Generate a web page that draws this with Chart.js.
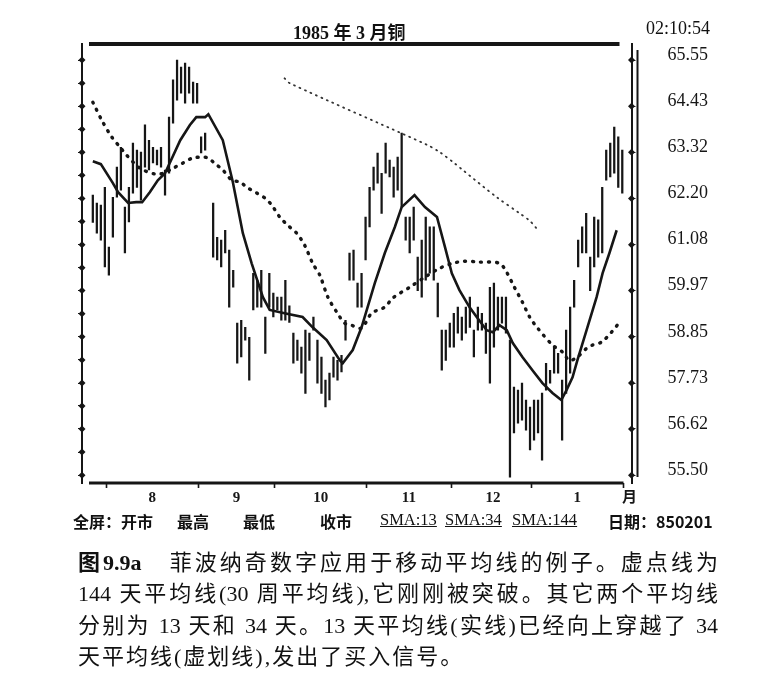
<!DOCTYPE html>
<html>
<head>
<meta charset="utf-8">
<script src="https://cdn.jsdelivr.net/npm/chart.js@4.4.1/dist/chart.umd.min.js"></script>
<style>
html, body { margin: 0; padding: 0; background: #fff; }
body { width: 771px; height: 683px; position: relative; overflow: hidden;
       font-family: "Liberation Serif", "Noto Sans CJK SC", serif; color: #111; }
#wrap { position: absolute; left: 0; top: 0; width: 771px; height: 540px; }
.t { position: absolute; white-space: nowrap; line-height: 1; }
#title { left: 293px; top: 24px; font-size: 18px; font-weight: bold; }
#clock { left: 646px; top: 19px; font-size: 18px; }
.leg { top: 513px; font-size: 16px; font-weight: bold; font-family: "Noto Sans CJK SC", sans-serif; }
.sma { top: 512px; font-size: 16.5px; text-decoration: underline; font-family: "Liberation Serif", serif; }
.cap { position: absolute; left: 78px; width: 640px; font-size: 22px; line-height: 31px;
       white-space: nowrap; }
.just { text-align: justify; text-align-last: justify; text-justify: inter-character; }
</style>
</head>
<body>
<div id="wrap"><canvas id="c" width="771" height="540"></canvas></div>

<div class="t" id="title">1985 年 3 月铜</div>
<div class="t" id="clock">02:10:54</div>

<div class="t leg" style="left:73px">全屏：开市</div>
<div class="t leg" style="left:177px">最高</div>
<div class="t leg" style="left:243px">最低</div>
<div class="t leg" style="left:320px">收市</div>
<div class="t sma" style="left:380px">SMA:13</div>
<div class="t sma" style="left:445px">SMA:34</div>
<div class="t sma" style="left:512px">SMA:144</div>
<div class="t leg" style="left:608px">日期：850201</div>

<div class="cap just" style="top:547px"><b>图9.9a</b>　菲波纳奇数字应用于移动平均线的例子。虚点线为</div>
<div class="cap just" style="top:578px">144 天平均线(30 周平均线),它刚刚被突破。其它两个平均线</div>
<div class="cap just" style="top:610px">分别为 13 天和 34 天。13 天平均线(实线)已经向上穿越了 34</div>
<div class="cap" style="top:641px; letter-spacing:2px">天平均线(虚划线),发出了买入信号。</div>

<script>
// trading days per month on the chart (Jul 84 .. Jan 85, last one incl. 850201)
const months = ['1984-07', '1984-08', '1984-09', '1984-10', '1984-11', '1984-12', '1985-01'];
const monthDays = [6, 23, 19, 23, 21, 20, 23];
const monthTicks = ['', '8', '9', '10', '11', '12', '1'];
const unitTick = '月';
const spareSlots = 2;

// daily low / high
const lows = [null, null,
  61.62, 61.36, 61.19, 60.54, 60.34, 61.26, 62.23, 62.40, 60.88, 61.63,
  62.33, 62.47, 62.16, 62.96, 62.89, 63.06, 63.01, 62.96, 62.28, 62.81,
  64.02, 64.58, 64.75, 64.51, 64.75, 64.51, 64.51, 63.30, 63.37, null,
  60.78, 60.71, 60.54, 60.88, 59.57, 60.05, 58.21, 58.36, 58.77, 57.80,
  59.50, 59.57, 59.57, 58.45, 59.57, 59.33, 59.50, 59.25, 59.25, 59.20,
  58.21, 58.28, 57.97, 57.48, 58.28, 59.01, 57.73, 57.48, 57.15, 57.32,
  57.87, 57.80, 58.00, 58.77, 60.22, 60.22, 59.57, 59.57, 60.71, 61.51,
  62.40, 62.57, 61.84, 62.81, 62.72, 62.23, 62.40, 61.99, 61.19, 60.88,
  61.19, 59.97, 59.81, 60.22, 60.39, 60.22, 59.33, 58.04, 58.28, 58.60,
  58.60, 58.94, 58.77, 58.94, 59.08, 58.36, 59.01, 59.01, 58.45, 57.73,
  58.60, 59.01, 59.18, 58.94, 55.45, 56.52, 56.76, 56.83, 56.59, 56.11,
  56.35, 56.52, 55.86, 57.56, 57.73, 57.97, 57.97, 56.35, 57.48, 57.97,
  59.57, 60.54, 60.88, 60.88, 59.97, 60.54, 60.78, 60.88, 62.64, 62.72,
  62.81, 62.47, 62.33, null, null];
const highs = [null, null,
  62.28, 62.09, 62.04, 62.47, 61.02, 62.23, 62.96, 63.44, 61.99, 62.47,
  63.54, 63.37, 63.32, 63.98, 63.61, 63.44, 63.37, 63.44, 62.89, 64.17,
  65.07, 65.55, 65.38, 65.48, 65.38, 65.02, 64.99, 63.69, 63.78, null,
  62.09, 61.26, 61.19, 61.43, 60.95, 60.46, 59.18, 59.25, 59.08, 58.84,
  60.39, 60.22, 60.46, 59.33, 60.39, 59.91, 59.81, 59.81, 60.22, 59.60,
  58.94, 58.77, 58.60, 59.01, 58.94, 59.33, 58.77, 58.36, 57.80, 57.97,
  58.36, 58.28, 58.40, 59.25, 60.88, 60.95, 60.15, 60.39, 61.75, 62.47,
  62.96, 63.30, 62.81, 63.54, 63.13, 62.96, 63.20, 63.78, 61.75, 61.75,
  61.99, 60.78, 61.19, 61.75, 61.51, 61.51, 60.15, 59.01, 59.01, 59.18,
  59.42, 59.57, 59.33, 59.57, 59.81, 59.01, 59.57, 59.42, 59.18, 60.05,
  60.15, 59.81, 59.81, 59.81, 58.77, 57.63, 57.56, 57.73, 57.32, 57.15,
  57.32, 57.32, 57.49, 58.21, 58.04, 58.60, 58.45, 57.80, 59.01, 59.57,
  60.22, 61.19, 61.51, 61.84, 60.78, 61.75, 61.68, 62.47, 63.37, 63.54,
  63.93, 63.69, 63.37, null, null];

// moving averages, read at the day positions where the curves are visible
const sma13Day = [2.2, 4.2, 7.2, 8.5, 11, 13, 14.5, 16.4, 18.4, 20.2, 24, 26.4, 28, 30.2, 31,
  34.6, 37.1, 39.6, 41.8, 44.6, 46.3, 50, 54.5, 57, 60.5, 63.8, 64.5, 67, 69.2, 72.5, 75,
  77.5, 79.2, 82.4, 85, 88, 90, 91.7, 93.6, 96.1, 97.9, 100.4, 101.9, 103.6, 105.4, 106.9,
  109.3, 111.8, 114.3, 116.8, 119, 120.3, 121.8, 123, 125.3, 127.8, 129.3, 131, 132.8];
const sma13Val = [63.10, 63.03, 62.57, 62.35, 62.09, 62.11, 62.11, 62.35, 62.64, 62.81, 63.61,
  63.98, 64.17, 64.17, 64.24, 63.61, 62.60, 61.36, 60.63, 59.81, 59.50, 59.42, 59.33, 59.08,
  58.77, 58.28, 58.21, 58.53, 59.08, 60.15, 60.88, 61.51, 61.99, 62.28, 61.99, 61.75, 61.02,
  60.39, 59.98, 59.57, 59.33, 59.01, 58.96, 59.13, 59.01, 58.70, 58.36, 58.04, 57.73, 57.49,
  57.32, 57.56, 57.87, 58.28, 59.01, 59.81, 60.39, 60.88, 61.43];

const sma34Day = [2.2, 4.4, 6.9, 9, 10.6, 14, 17.7, 19.7, 22.2, 24.7, 27.1, 29.6, 30.9, 33.1,
  34.6, 36.9, 38.9, 40.6, 43.1, 45.1, 46.8, 48.8, 50.8, 53, 55, 57, 58.8, 60.8, 63, 65, 66.7,
  69.2, 71.7, 75, 77, 81.2, 84.9, 88.7, 91.9, 94.9, 98.6, 103.6, 105.4, 107.3, 109.3, 111.1,
  113.1, 116.8, 119.3, 121, 123, 125.3, 126.8, 129, 131.5, 133.5];
const sma34Val = [64.53, 64.10, 63.69, 63.44, 63.25, 62.93, 62.79, 62.81, 62.93, 63.06, 63.18,
  63.20, 63.18, 63.01, 62.89, 62.64, 62.60, 62.47, 62.33, 62.21, 62.04, 61.75, 61.55, 61.36,
  61.07, 60.63, 60.34, 59.81, 59.45, 59.18, 59.13, 59.06, 59.42, 59.57, 59.79, 60.05, 60.29,
  60.51, 60.63, 60.68, 60.66, 60.63, 60.41, 60.05, 59.69, 59.33, 59.06, 58.65, 58.48, 58.28,
  58.36, 58.57, 58.65, 58.72, 58.96, 59.20];

const sma144Day = [50, 51.3, 85.7, 88.7, 92.4, 94.4, 102.9, 108.6, 111, 112.8];
const sma144Val = [65.11, 64.99, 63.49, 63.32, 63.05, 62.89, 62.23, 61.84, 61.67, 61.48];

// price scale labels on the right
const yTickLabels = ['55.50', '56.62', '57.73', '58.85', '59.97', '61.08', '62.20', '63.32', '64.43', '65.55'];

// day slots, month start indexes and tick texts
const dayLabels = [];
const monthStarts = [];
const xTickText = {};
months.forEach((m, k) => {
  monthStarts.push(dayLabels.length);
  xTickText[dayLabels.length + Math.floor(monthDays[k] / 2)] = monthTicks[k];
  for (let d = 1; d <= monthDays[k]; d++) dayLabels.push(m + ' #' + d);
});
const dataEnd = dayLabels.length;
for (let d = 1; d <= spareSlots; d++) dayLabels.push('1985-02 #' + d);
xTickText[dayLabels.length - 1] = unitTick;
const boundaries = monthStarts.slice(1).concat([dataEnd]);

const yTickValues = yTickLabels.map(Number);
const yHalfTicks = [];
yTickValues.forEach((v, k) => {
  yHalfTicks.push(v);
  if (k < yTickValues.length - 1) yHalfTicks.push((v + yTickValues[k + 1]) / 2);
});

const serif = '"Liberation Serif", "Noto Sans CJK SC", serif';
const ink = '#161616';

const framePlugin = {
  id: 'frame',
  afterDraw(chart) {
    const { ctx, chartArea: a, scales } = chart;
    ctx.save();
    ctx.strokeStyle = ink;
    ctx.fillStyle = ink;
    // thick rule under the title
    ctx.lineWidth = 4;
    ctx.beginPath();
    ctx.moveTo(a.left + 7, a.top);
    ctx.lineTo(a.right - 12, a.top);
    ctx.stroke();
    // time axis rule, up to the end of the last month
    const x = scales.x;
    const endPx = (x.getPixelForValue(dataEnd - 1) + x.getPixelForValue(dataEnd)) / 2;
    ctx.lineWidth = 3;
    ctx.beginPath();
    ctx.moveTo(a.left + 7, a.bottom);
    ctx.lineTo(endPx, a.bottom);
    ctx.stroke();
    // second rule right of the price axis
    ctx.lineWidth = 2;
    ctx.beginPath();
    ctx.moveTo(a.right + 6, a.top + 6);
    ctx.lineTo(a.right + 6, a.bottom - 6);
    ctx.stroke();
    // diamonds on both price axes
    [['yl', a.left], ['y', a.right]].forEach(([id, px]) => {
      scales[id].ticks.forEach(t => {
        const py = scales[id].getPixelForValue(t.value);
        ctx.beginPath();
        ctx.moveTo(px, py - 3.5);
        ctx.lineTo(px + 3.5, py);
        ctx.lineTo(px, py + 3.5);
        ctx.lineTo(px - 3.5, py);
        ctx.closePath();
        ctx.fill();
      });
    });
    ctx.restore();
  }
};

const yMin = 55.31, yMax = 65.94;

new Chart(document.getElementById('c'), {
  type: 'bar',
  data: {
    labels: dayLabels,
    datasets: [
      {
        type: 'line', label: 'SMA:13', xAxisID: 'xl', yAxisID: 'y',
        data: sma13Day.map((d, k) => ({ x: d, y: sma13Val[k] })),
        borderColor: ink, borderWidth: 2.6, pointRadius: 0, tension: 0, order: 1
      },
      {
        type: 'line', label: 'SMA:34', xAxisID: 'xl', yAxisID: 'y',
        data: sma34Day.map((d, k) => ({ x: d, y: sma34Val[k] })),
        borderColor: ink, borderWidth: 3.4, borderDash: [1, 7], borderCapStyle: 'round',
        pointRadius: 0, tension: 0.3, order: 2
      },
      {
        type: 'line', label: 'SMA:144', xAxisID: 'xl', yAxisID: 'y',
        data: sma144Day.map((d, k) => ({ x: d, y: sma144Val[k] })),
        borderColor: '#333', borderWidth: 1.8, borderDash: [1, 5], borderCapStyle: 'round',
        pointRadius: 0, tension: 0.3, order: 3
      },
      {
        type: 'bar', label: '最高/最低', xAxisID: 'x', yAxisID: 'y',
        data: highs.map((h, i) => (h == null ? null : [lows[i], h])),
        backgroundColor: ink, barThickness: 1.6, order: 4
      }
    ]
  },
  options: {
    responsive: false,
    animation: false,
    devicePixelRatio: 1,
    layout: { padding: { left: 78, right: 31, top: 44, bottom: 32 } },
    plugins: { legend: { display: false }, tooltip: { enabled: false }, title: { display: false } },
    scales: {
      x: {
        type: 'category', position: 'bottom', offset: true,
        border: { display: false },
        grid: {
          display: true, offset: true, drawOnChartArea: false, drawTicks: true,
          tickLength: 5, tickWidth: 1.6,
          tickColor: c => (boundaries.includes(c.index) ? ink : 'rgba(0,0,0,0)')
        },
        ticks: {
          autoSkip: false, maxRotation: 0, minRotation: 0, padding: 1, color: ink,
          font: { family: serif, size: 15, weight: 'bold' },
          callback: (v, i) => xTickText[i] || ''
        }
      },
      xl: { type: 'linear', display: false, offset: false, min: -0.5, max: dayLabels.length - 0.5 },
      y: {
        position: 'right', min: yMin, max: yMax,
        afterBuildTicks: s => { s.ticks = yHalfTicks.map(v => ({ value: v })); },
        border: { display: true, color: ink, width: 2 },
        grid: { display: true, drawOnChartArea: false, tickLength: 4, color: ink },
        ticks: {
          padding: 32, labelOffset: -5, color: ink,
          font: { family: serif, size: 18 },
          callback: (v, i) => (i % 2 === 0 ? yTickLabels[i / 2] : '')
        }
      },
      yl: {
        position: 'left', min: yMin, max: yMax,
        afterBuildTicks: s => { s.ticks = yHalfTicks.map(v => ({ value: v })); },
        border: { display: true, color: ink, width: 2, dash: [3, 3] },
        grid: { display: true, drawOnChartArea: false, tickLength: 4, color: ink },
        ticks: { display: false }
      }
    }
  },
  plugins: [framePlugin]
});
</script>
</body>
</html>
